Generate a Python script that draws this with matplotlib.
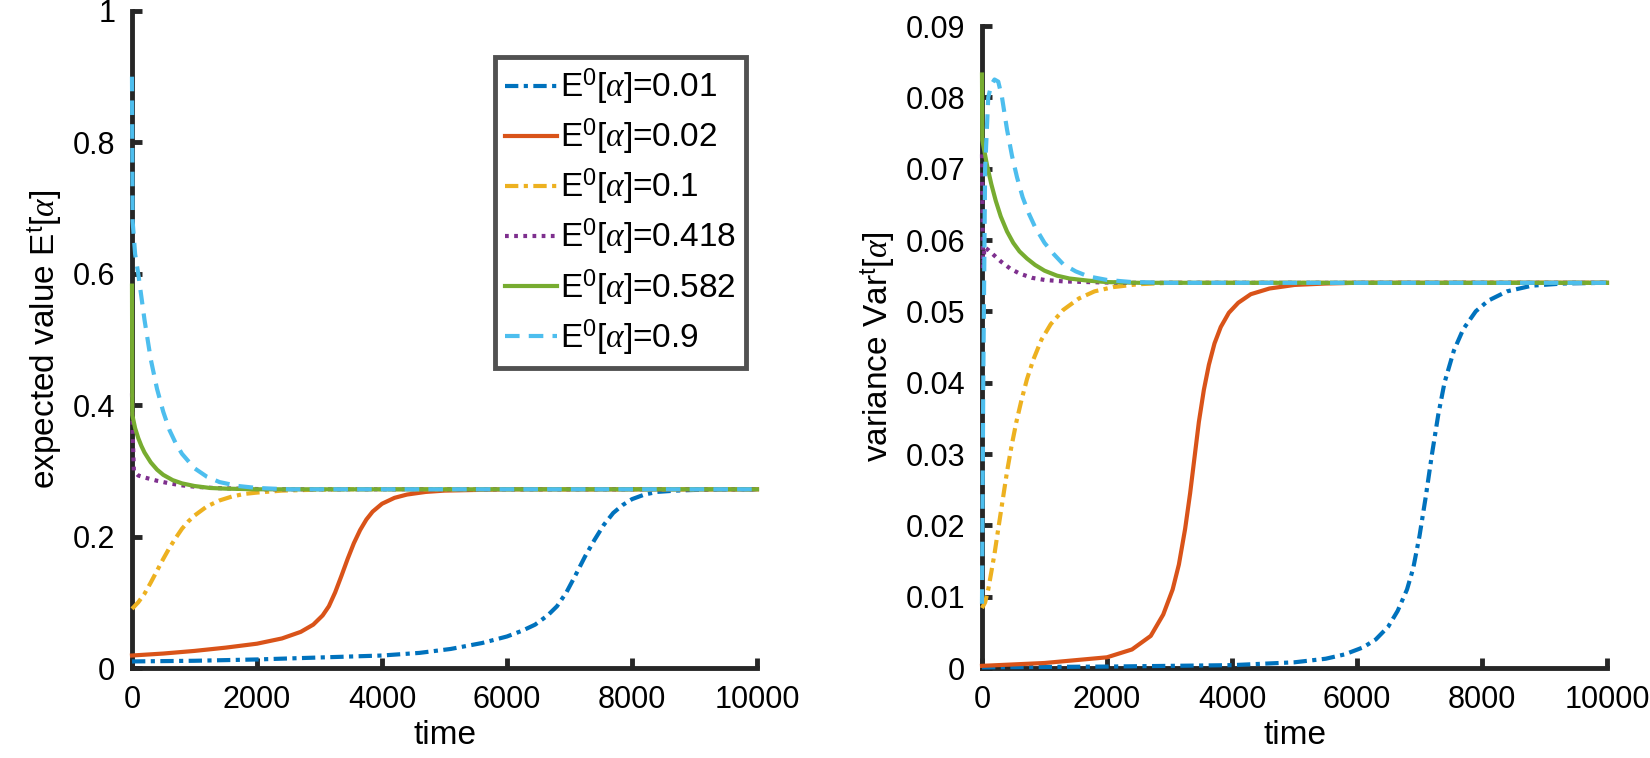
import matplotlib
matplotlib.use('Agg')
import matplotlib.pyplot as plt

plt.rcParams['font.family'] = ['Liberation Sans', 'DejaVu Sans']
plt.rcParams['mathtext.fontset'] = 'custom'
plt.rcParams['mathtext.rm'] = 'Liberation Sans'
plt.rcParams['mathtext.it'] = 'Liberation Serif:italic'
plt.rcParams['mathtext.bf'] = 'Liberation Sans:bold'

# initial values E0[alpha] for the six runs
e0_labels = ['0.01', '0.02', '0.1', '0.418', '0.582', '0.9']

# ---- expected value E^t[alpha] ----
t_m_001 = [0, 1000, 2000, 3000, 4000, 4600, 5100, 5600, 6000, 6250, 6450, 6650, 6800,
           6950, 7100, 7250, 7400, 7550, 7700, 7850, 8000, 8200, 8400, 8700, 9000, 9500, 10000]
m_001 = [0.010, 0.011, 0.013, 0.016, 0.019, 0.023, 0.029, 0.038, 0.048, 0.057, 0.066, 0.080, 0.094,
         0.115, 0.142, 0.170, 0.195, 0.218, 0.236, 0.248, 0.257, 0.264, 0.268, 0.270, 0.271, 0.272, 0.272]

t_m_002 = [0, 500, 1000, 1500, 2000, 2400, 2700, 2900, 3050, 3150, 3250, 3350, 3450, 3550,
           3650, 3750, 3850, 4000, 4200, 4400, 4700, 5000, 5500, 6000, 10000]
m_002 = [0.019, 0.022, 0.026, 0.031, 0.037, 0.045, 0.055, 0.066, 0.080, 0.094, 0.115, 0.140, 0.166, 0.190,
         0.210, 0.226, 0.238, 0.250, 0.259, 0.264, 0.268, 0.270, 0.271, 0.272, 0.272]

t_m_01 = [0, 100, 200, 300, 400, 500, 600, 700, 800, 900, 1000, 1200, 1400, 1600, 1800,
          2000, 2400, 2800, 3500, 10000]
m_01 = [0.090, 0.100, 0.113, 0.130, 0.148, 0.166, 0.183, 0.198, 0.212, 0.223, 0.232, 0.246, 0.255, 0.261, 0.265,
        0.267, 0.270, 0.271, 0.272, 0.272]

t_m_0418 = [0, 10, 30, 100, 200, 400, 600, 800, 1000, 1300, 1700, 2200, 3000, 10000]
m_0418 = [0.418, 0.360, 0.300, 0.293, 0.290, 0.285, 0.281, 0.278, 0.276, 0.274, 0.273, 0.272, 0.272, 0.272]

t_m_0582 = [0, 5, 50, 100, 150, 200, 300, 400, 500, 650, 800, 1000, 1250, 1500, 2000, 2500, 10000]
m_0582 = [0.582, 0.385, 0.365, 0.350, 0.338, 0.328, 0.313, 0.302, 0.294, 0.286, 0.281, 0.277, 0.274, 0.273,
          0.272, 0.272, 0.272]

t_m_09 = [0, 10, 50, 100, 150, 200, 300, 400, 500, 600, 700, 800, 1000, 1200, 1400, 1700,
          2000, 2500, 3000, 10000]
m_09 = [0.900, 0.680, 0.630, 0.600, 0.565, 0.530, 0.470, 0.425, 0.390, 0.362, 0.342, 0.326, 0.304, 0.291,
        0.283, 0.277, 0.274, 0.272, 0.272, 0.272]

# ---- variance Var^t[alpha] ----
t_v_001 = [0, 2000, 4000, 5000, 5500, 5800, 6100, 6300, 6500, 6650, 6800, 6900, 7000, 7100,
           7200, 7300, 7400, 7550, 7700, 7900, 8100, 8400, 8800, 9300, 10000]
v_001 = [0.0001, 0.0002, 0.0004, 0.0008, 0.0013, 0.0019, 0.0029, 0.0040, 0.0058, 0.0080, 0.0110, 0.0140,
         0.0185, 0.0240, 0.0300, 0.0355, 0.0400, 0.0445, 0.0475, 0.0500, 0.0515, 0.0528, 0.0536, 0.0539, 0.0540]

t_v_002 = [0, 1000, 2000, 2400, 2700, 2900, 3050, 3150, 3250, 3330, 3400, 3470, 3550, 3630,
           3720, 3820, 3950, 4100, 4300, 4600, 5000, 5500, 6000, 10000]
v_002 = [0.0003, 0.0007, 0.0015, 0.0026, 0.0045, 0.0075, 0.0110, 0.0145, 0.0195, 0.0245, 0.0295, 0.0345,
         0.0390, 0.0425, 0.0455, 0.0478, 0.0498, 0.0512, 0.0524, 0.0532, 0.0537, 0.0539, 0.0540, 0.0540]

t_v_01 = [0, 50, 100, 150, 200, 260, 330, 400, 470, 550, 630, 720, 820, 950, 1100, 1300,
          1550, 1800, 2100, 2500, 3000, 10000]
v_01 = [0.0084, 0.0092, 0.0110, 0.0135, 0.0160, 0.0195, 0.0235, 0.0275, 0.0310, 0.0345, 0.0375, 0.0405,
        0.0432, 0.0460, 0.0482, 0.0502, 0.0518, 0.0528, 0.0534, 0.0538, 0.0540, 0.0540]

t_v_0418 = [0, 15, 40, 100, 200, 300, 450, 600, 800, 1000, 1300, 1700, 2200, 10000]
v_0418 = [0.0720, 0.0560, 0.0590, 0.0586, 0.0578, 0.0570, 0.0560, 0.0553, 0.0547, 0.0544, 0.0542, 0.0541,
          0.0540, 0.0540]

t_v_0582 = [0, 5, 80, 150, 220, 300, 400, 500, 600, 720, 850, 1000, 1200, 1400, 1700, 2000, 2500, 10000]
v_0582 = [0.0832, 0.0740, 0.0705, 0.0678, 0.0655, 0.0633, 0.0612, 0.0596, 0.0584, 0.0574, 0.0565, 0.0557,
          0.0550, 0.0546, 0.0543, 0.0541, 0.0540, 0.0540]

t_v_09 = [0, 20, 50, 100, 150, 200, 260, 320, 400, 480, 560, 650, 750, 850, 1000, 1150,
          1300, 1500, 1700, 2000, 2400, 3000, 10000]
v_09 = [0.0090, 0.0400, 0.0700, 0.0800, 0.0818, 0.0825, 0.0822, 0.0800, 0.0755, 0.0718, 0.0688, 0.0660,
        0.0637, 0.0618, 0.0596, 0.0580, 0.0566, 0.0556, 0.0549, 0.0544, 0.0541, 0.0540, 0.0540]

mean_series = [(t_m_001, m_001), (t_m_002, m_002), (t_m_01, m_01),
               (t_m_0418, m_0418), (t_m_0582, m_0582), (t_m_09, m_09)]
var_series = [(t_v_001, v_001), (t_v_002, v_002), (t_v_01, v_01),
              (t_v_0418, v_0418), (t_v_0582, v_0582), (t_v_09, v_09)]

# MATLAB default colour order
colors = ['#0072BD', '#D95319', '#EDB120', '#7E2F8E', '#77AC30', '#4DBEEE']
styles = [(0, (3.2, 1.3, 1.0, 1.3)), '-', (0, (3.2, 1.3, 1.0, 1.3)),
          (0, (0.9, 1.3)), '-', (0, (3.5, 2.2))]
lw = 3.0
fs = 22
label_fs = 24

fig = plt.figure(figsize=(16.5, 7.58), dpi=100)
W, H = 1650, 758
ax1 = fig.add_axes([132 / W, 1 - 668 / H, 625 / W, (668 - 11) / H])
ax2 = fig.add_axes([982 / W, 1 - 668 / H, 625 / W, (668 - 26) / H])


def style_axes(ax):
    for side in ['top', 'right']:
        ax.spines[side].set_visible(False)
    for side in ['left', 'bottom']:
        ax.spines[side].set_linewidth(3.5)
        ax.spines[side].set_color('#262626')
    ax.tick_params(direction='in', length=7, width=3.5, labelsize=fs, pad=12, color='#262626')
    ax.set_xlim(0, 10000)
    ax.set_xticks([0, 2000, 4000, 6000, 8000, 10000])
    ax.set_xlabel('time', fontsize=label_fs, labelpad=4)


handles = []
for i, (t, v) in enumerate(mean_series):
    h, = ax1.plot(t, v, color=colors[i], linestyle=styles[i], linewidth=lw, clip_on=False, zorder=3,
                  label=r'E$^{\rm 0}$[$\mathit{\alpha}$]=' + e0_labels[i])
    handles.append(h)
for i, (t, v) in enumerate(var_series):
    ax2.plot(t, v, color=colors[i], linestyle=styles[i], linewidth=lw, clip_on=False, zorder=3)

style_axes(ax1)
ax1.set_ylim(0, 1)
ax1.set_yticks([0, 0.2, 0.4, 0.6, 0.8, 1])
ax1.set_yticklabels(['0', '0.2', '0.4', '0.6', '0.8', '1'])
ax1.set_ylabel(r'expected value E$^{\rm t}$[$\mathit{\alpha}$]', fontsize=label_fs, labelpad=6)

style_axes(ax2)
ax2.set_ylim(0, 0.09)
yt = [0, 0.01, 0.02, 0.03, 0.04, 0.05, 0.06, 0.07, 0.08, 0.09]
ax2.set_yticks(yt)
ax2.set_yticklabels(['0'] + ['%.2f' % y for y in yt[1:]])
ax2.set_ylabel(r'variance Var$^{\rm t}$[$\mathit{\alpha}$]', fontsize=label_fs, labelpad=6)

leg = fig.legend(handles=handles, loc='upper left', bbox_to_anchor=(495 / W, 1 - 57 / H),
                 fontsize=24, frameon=True, fancybox=False, handlelength=1.55, handletextpad=0.1,
                 labelspacing=0.3, borderpad=0.3, borderaxespad=0)
leg.get_frame().set_edgecolor('#262626')
leg.get_frame().set_linewidth(3.5)

fig.savefig('out.png', dpi=100)
